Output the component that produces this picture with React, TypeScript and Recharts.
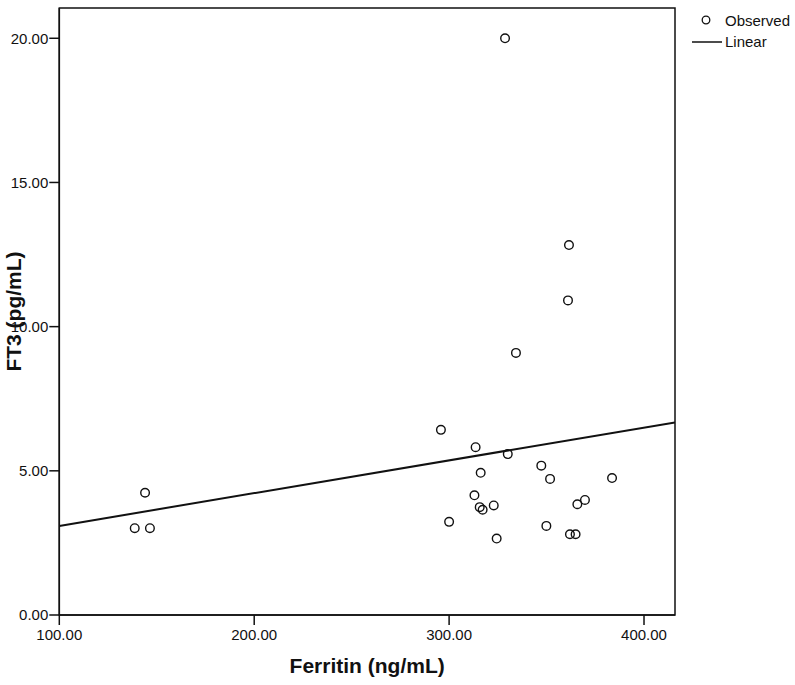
import { ScatterChart, Scatter, XAxis, YAxis, ReferenceArea } from 'recharts'

// Ferritin (ng/mL) vs FT3 (pg/mL)
const ferritin = [
  313.6, 330.1, 347.3, 351.8, 316.2, 313.0, 315.7, 317.2, 322.9, 300.0,
  324.4, 349.9, 362.0, 364.9, 365.8, 369.7, 383.6, 295.8, 328.7, 361.5,
  361.0, 334.3, 144.0, 138.7, 146.5,
]
const ft3 = [
  5.82, 5.58, 5.18, 4.72, 4.93, 4.15, 3.74, 3.65, 3.80, 3.23,
  2.65, 3.09, 2.80, 2.80, 3.84, 3.99, 4.75, 6.42, 20.0, 12.83,
  10.91, 9.09, 4.24, 3.01, 3.01,
]

// linear fit line, end points
const fitX = [100, 415.9]
const fitY = [3.09, 6.68]

const xTicks = [100, 200, 300, 400]
const yTicks = [0, 5, 10, 15, 20]

const X_DOMAIN = [100, 415.9]
const Y_DOMAIN = [0, 21.05]

const FONT = '"Liberation Sans", Arial, sans-serif'
const INK = '#111'

const observed = ferritin.map((x, i) => ({ x, y: ft3[i] }))
const linear = fitX.map((x, i) => ({ x, y: fitY[i] }))

const tickStyle = { fontSize: 15, fill: INK, fontFamily: FONT }

function OpenCircle(props: any) {
  const { cx, cy } = props
  if (cx == null || cy == null) return <g />
  return <circle cx={cx} cy={cy} r={4.3} fill="none" stroke={INK} strokeWidth={1.4} />
}

function LegendBox() {
  return (
    <svg width={105} height={50} style={{ position: 'absolute', left: 690, top: 0 }}>
      <circle cx={16} cy={20} r={3.8} fill="none" stroke={INK} strokeWidth={1.3} />
      <text x={35} y={20} dominantBaseline="central" fontSize={15} fontFamily={FONT} fill={INK}>
        Observed
      </text>
      <line x1={2} x2={32} y1={42} y2={42} stroke={INK} strokeWidth={1.5} />
      <text x={35} y={41} dominantBaseline="central" fontSize={15} fontFamily={FONT} fill={INK}>
        Linear
      </text>
    </svg>
  )
}

export default function App() {
  return (
    <div style={{ position: 'absolute', left: 0, top: 0, width: 795, height: 685, background: '#fff' }}>
      <ScatterChart width={795} height={685} margin={{ top: 8, right: 120, bottom: 0, left: 0 }}>
        <XAxis
          type="number"
          dataKey="x"
          domain={X_DOMAIN}
          ticks={xTicks}
          allowDataOverflow
          tickFormatter={(v: number) => v.toFixed(2)}
          tick={tickStyle}
          tickSize={10}
          tickMargin={4}
          height={70}
          axisLine={{ stroke: INK, strokeWidth: 1.5 }}
          tickLine={{ stroke: INK, strokeWidth: 1.5 }}
          label={(p: any) => {
            const vb = p.viewBox
            return (
              <text
                x={vb.x + vb.width / 2}
                y={vb.y + 58}
                textAnchor="middle"
                fontSize={21}
                fontWeight="bold"
                fontFamily={FONT}
                fill={INK}
              >
                Ferritin (ng/mL)
              </text>
            )
          }}
        />
        <YAxis
          type="number"
          dataKey="y"
          domain={Y_DOMAIN}
          ticks={yTicks}
          allowDataOverflow
          tickFormatter={(v: number) => v.toFixed(2)}
          tick={tickStyle}
          tickSize={10}
          tickMargin={1}
          width={59.3}
          axisLine={{ stroke: INK, strokeWidth: 1.5 }}
          tickLine={{ stroke: INK, strokeWidth: 1.5 }}
          label={(p: any) => {
            const vb = p.viewBox
            const cy = vb.y + vb.height / 2
            return (
              <text
                x={21}
                y={cy}
                transform={`rotate(-90, 21, ${cy})`}
                textAnchor="middle"
                fontSize={21}
                fontWeight="bold"
                fontFamily={FONT}
                fill={INK}
              >
                FT3 (pg/mL)
              </text>
            )
          }}
        />
        <ReferenceArea
          x1={X_DOMAIN[0]}
          x2={X_DOMAIN[1]}
          y1={Y_DOMAIN[0]}
          y2={Y_DOMAIN[1]}
          fill="none"
          stroke={INK}
          strokeWidth={1.5}
          ifOverflow="visible"
        />
        <Scatter
          name="Linear"
          data={linear}
          line={{ stroke: INK, strokeWidth: 2 }}
          shape={() => <g />}
          isAnimationActive={false}
        />
        <Scatter name="Observed" data={observed} shape={OpenCircle} isAnimationActive={false} />
      </ScatterChart>
      <LegendBox />
    </div>
  )
}
